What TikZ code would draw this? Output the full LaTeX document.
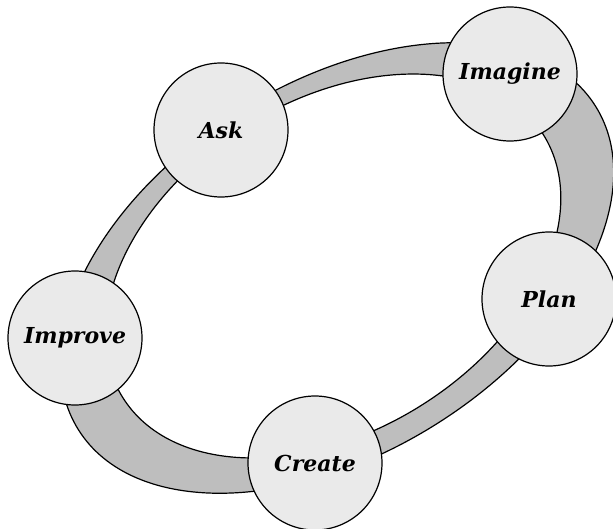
\documentclass[tikz,border=0pt]{standalone}
\usepackage{fontspec}
\setmainfont{DejaVu Serif}
\definecolor{bandgray}{RGB}{190,190,190}
\definecolor{nodegray}{RGB}{234,234,234}
\tikzset{
  x=1pt, y=1pt,
  stage/.style={circle, draw=black, line width=1.2pt, fill=nodegray,
    minimum size=134pt, inner sep=0pt,
    font=\fontsize{22}{26}\selectfont\bfseries\itshape},
  band/.style={fill=bandgray, draw=black, line width=1.2pt, even odd rule}
}
\begin{document}
\begin{tikzpicture}
\useasboundingbox (0,0) rectangle (613,-529);
% ring band (two rotated ellipses)
\path[band]
  (337,-268) ellipse [x radius=305pt, y radius=185pt, rotate=32]
  (333,-266) ellipse [x radius=248pt, y radius=165pt, rotate=32];
% stages
\node[stage] (ask)     at (221,-130) {Ask};
\node[stage] (imagine) at (510,-74)  {Imagine};
\node[stage] (plan)    at (549,-299) {Plan};
\node[stage] (create)  at (315,-463) {Create};
\node[stage] (improve) at (75,-338)  {Improve};
\end{tikzpicture}
\end{document}
